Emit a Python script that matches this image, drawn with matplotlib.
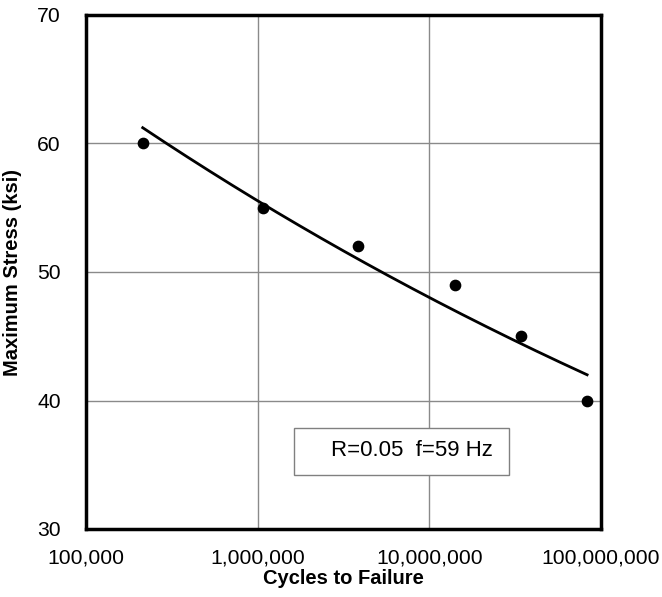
import numpy as np
import matplotlib
matplotlib.use("Agg")
import matplotlib.pyplot as plt
from matplotlib.patches import Rectangle
from matplotlib.ticker import FuncFormatter

plt.rcParams['font.family'] = ['Liberation Sans', 'DejaVu Sans']

cycles = [2.14e5, 1.07e6, 3.82e6, 1.42e7, 3.44e7, 8.3e7]
stress = [60, 55, 52, 49, 45, 40]
x_ticks = [1e5, 1e6, 1e7, 1e8]
y_ticks = [30, 40, 50, 60, 70]
annotation = "R=0.05  f=59 Hz"

fig = plt.figure(figsize=(6.62, 5.97), dpi=100)
ax = fig.add_axes([86/662, 1-529/597, (601-86)/662, (529-15)/597])

# power-law trendline fitted to the data
b, a = np.polyfit(np.log10(cycles), np.log10(stress), 1)
xf = np.logspace(np.log10(cycles[0]), np.log10(cycles[-1]), 200)
ax.plot(xf, 10**(a + b*np.log10(xf)), color='black', lw=2, zorder=3)
ax.scatter(cycles, stress, s=55, color='black', zorder=4)

ax.set_xscale('log')
ax.set_xlim(1e5, 1e8)
ax.set_ylim(30, 70)
ax.set_xticks(x_ticks)
ax.set_yticks(y_ticks)
ax.minorticks_off()
ax.xaxis.set_major_formatter(FuncFormatter(lambda v, p: f"{int(round(v)):,}"))
ax.grid(True, color='#8a8a8a', lw=1)
ax.set_axisbelow(True)
ax.tick_params(length=0, labelsize=15.2, colors='black')
ax.tick_params(axis='x', pad=14)
ax.tick_params(axis='y', pad=18)
for s in ax.spines.values():
    s.set_linewidth(2.5)
    s.set_color('black')

ax.set_xlabel('Cycles to Failure', fontsize=14.5, fontweight='bold', labelpad=1)
ax.set_ylabel('Maximum Stress (ksi)', fontsize=14.5, fontweight='bold', labelpad=11)

ax.add_patch(Rectangle((0.4045, 0.105), 0.4163, 0.091, transform=ax.transAxes,
                       facecolor='white', edgecolor='#808080', lw=1, zorder=5))
ax.text(0.790, 0.153, annotation, transform=ax.transAxes, ha='right', va='center',
        fontsize=16, zorder=6)

fig.savefig('out.png', dpi=100)
